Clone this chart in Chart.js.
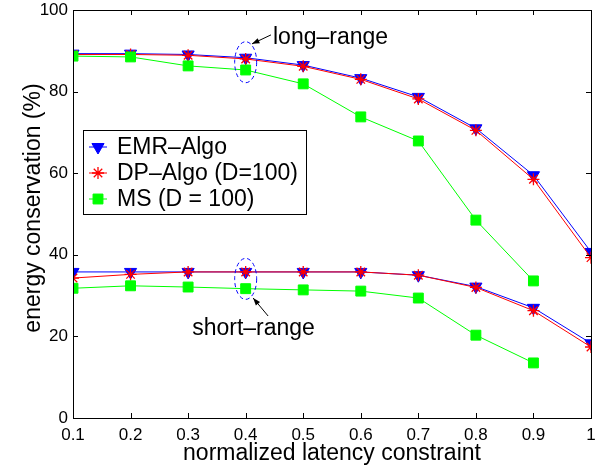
<!DOCTYPE html>
<html>
<head>
<meta charset="utf-8">
<script src="https://cdn.jsdelivr.net/npm/chart.js@4.4.1/dist/chart.umd.min.js"></script>
<style>
  body { margin: 0; background: #fff; }
  #chart { display: block; }
</style>
</head>
<body>
<canvas id="chart" width="602" height="467"></canvas>
<script>
// values
const latency = [0.1, 0.2, 0.3, 0.4, 0.5, 0.6, 0.7, 0.8, 0.9, 1.0];
const yTicks = [0, 20, 40, 60, 80, 100];

const emrLong = [89.3, 89.3, 89.1, 88.3, 86.5, 83.3, 78.7, 71.0, 59.5, 40.7];
const dpLong = [89.1, 89.1, 88.9, 88.0, 86.2, 83.0, 78.2, 70.5, 58.5, 39.3];
const msLong = [88.7, 88.5, 86.3, 85.3, 81.9, 73.8, 67.9, 48.5, 33.6, null];

const emrShort = [35.8, 35.8, 35.8, 35.8, 35.8, 35.8, 35.0, 32.2, 27.0, 18.3];
const dpShort = [34.3, 35.2, 35.8, 35.8, 35.8, 35.8, 35.0, 32.0, 26.3, 17.4];
const msShort = [31.8, 32.4, 32.1, 31.7, 31.4, 31.1, 29.4, 20.3, 13.5, null];

const labels = ["EMR\u2013Algo", "DP\u2013Algo (D=100)", "MS (D = 100)"];

const FONT = "'Liberation Sans', Arial, Helvetica, sans-serif";
const BLUE = "#0000ff", RED = "#ff0000", GREEN = "#00ff00";

const styles = [
  { color: BLUE, pointStyle: "triangle", rotation: 180, radius: 7, order: 3, bw: 1 },
  { color: RED, pointStyle: "star", rotation: 0, radius: 6, order: 2, bw: 1.3 },
  { color: GREEN, pointStyle: "rect", rotation: 0, radius: 7, order: 1, bw: 1 },
];

const toXY = (arr) => latency.map((x, i) => ({ x: x, y: arr[i] }));

const makeSet = (arr, s) => ({
  data: toXY(arr),
  borderColor: s.color,
  backgroundColor: s.color,
  borderWidth: 1,
  pointStyle: s.pointStyle,
  rotation: s.rotation,
  pointRadius: s.radius,
  pointBorderWidth: s.bw,
  pointBorderColor: s.color,
  pointBackgroundColor: s.color,
  order: s.order,
  spanGaps: false,
});

// box, inward ticks on all four sides, y title, legend and the range notes
const extras = {
  id: "extras",
  afterDraw(chart) {
    const ctx = chart.ctx;
    const a = chart.chartArea;
    const xs = chart.scales.x, ys = chart.scales.y;
    const tl = 5;
    ctx.save();
    ctx.strokeStyle = "#000";
    ctx.lineWidth = 1;
    ctx.strokeRect(Math.round(a.left) + 0.5, Math.round(a.top) + 0.5,
      Math.round(a.right - a.left), Math.round(a.bottom - a.top));
    ctx.beginPath();
    latency.forEach((v) => {
      const px = Math.round(xs.getPixelForValue(v)) + 0.5;
      ctx.moveTo(px, a.bottom); ctx.lineTo(px, a.bottom - tl);
      ctx.moveTo(px, a.top); ctx.lineTo(px, a.top + tl);
    });
    yTicks.forEach((v) => {
      const py = Math.round(ys.getPixelForValue(v)) + 0.5;
      ctx.moveTo(a.left, py); ctx.lineTo(a.left + tl, py);
      ctx.moveTo(a.right, py); ctx.lineTo(a.right - tl, py);
    });
    ctx.stroke();

    // y axis title
    ctx.save();
    ctx.translate(34, 208);
    ctx.rotate(-Math.PI / 2);
    ctx.font = "23px " + FONT;
    ctx.fillStyle = "#000";
    ctx.textAlign = "center";
    ctx.textBaseline = "middle";
    ctx.fillText("energy conservation (%)", 0, 0);
    ctx.restore();

    // legend
    const lx = 83, ly = 130, lw = 223, lh = 84;
    ctx.fillStyle = "#fff";
    ctx.fillRect(lx, ly, lw, lh);
    ctx.strokeStyle = "#000";
    ctx.strokeRect(lx + 0.5, ly + 0.5, lw, lh);
    ctx.font = "23px " + FONT;
    ctx.textBaseline = "middle";
    ctx.textAlign = "left";
    styles.forEach((s, i) => {
      const cy = ly + 17 + i * 26;
      const cx = 98;
      ctx.strokeStyle = s.color;
      ctx.fillStyle = s.color;
      ctx.lineWidth = 1;
      ctx.beginPath();
      ctx.moveTo(cx - 9, cy); ctx.lineTo(cx + 9, cy);
      ctx.stroke();
      ctx.lineWidth = s.bw;
      Chart.helpers.drawPoint(ctx, {
        pointStyle: s.pointStyle, rotation: s.rotation, radius: s.radius, borderWidth: s.bw,
      }, cx, cy);
      ctx.fillStyle = "#000";
      ctx.fillText(labels[i], 117, cy + 1);
    });

    // range notes: dashed ellipses with arrows
    const note = (yVal, text, tx, ty, ax0, ay0, ax1, ay1) => {
      const ex = xs.getPixelForValue(0.4);
      const ey = ys.getPixelForValue(yVal);
      ctx.strokeStyle = BLUE;
      ctx.lineWidth = 1;
      ctx.setLineDash([4, 3]);
      ctx.beginPath();
      ctx.ellipse(ex, ey, 11, 20.5, 0, 0, Math.PI * 2);
      ctx.stroke();
      ctx.setLineDash([]);
      const x0 = xs.getPixelForValue(ax0), y0 = ys.getPixelForValue(ay0);
      const x1 = xs.getPixelForValue(ax1), y1 = ys.getPixelForValue(ay1);
      ctx.strokeStyle = "#000";
      ctx.fillStyle = "#000";
      ctx.beginPath();
      ctx.moveTo(x0, y0); ctx.lineTo(x1, y1);
      ctx.stroke();
      const ang = Math.atan2(y1 - y0, x1 - x0);
      ctx.beginPath();
      ctx.moveTo(x1, y1);
      ctx.lineTo(x1 - 8 * Math.cos(ang - 0.35), y1 - 8 * Math.sin(ang - 0.35));
      ctx.lineTo(x1 - 8 * Math.cos(ang + 0.35), y1 - 8 * Math.sin(ang + 0.35));
      ctx.closePath();
      ctx.fill();
      ctx.font = "23px " + FONT;
      ctx.textAlign = "left";
      ctx.textBaseline = "middle";
      ctx.fillText(text, xs.getPixelForValue(tx), ys.getPixelForValue(ty));
    };
    note(87.2, "long\u2013range", 0.4475, 93.1, 0.4440, 93.9, 0.4110, 91.7);
    note(34.1, "short\u2013range", 0.3070, 21.8, 0.4390, 25.0, 0.4130, 29.4);
    ctx.restore();
  },
};

new Chart(document.getElementById("chart"), {
  type: "line",
  data: {
    datasets: [
      makeSet(emrLong, styles[0]),
      makeSet(dpLong, styles[1]),
      makeSet(msLong, styles[2]),
      makeSet(emrShort, styles[0]),
      makeSet(dpShort, styles[1]),
      makeSet(msShort, styles[2]),
    ],
  },
  options: {
    responsive: false,
    animation: false,
    layout: { padding: { left: 0, top: 10, right: 11, bottom: 0 } },
    plugins: { legend: { display: false }, tooltip: { enabled: false } },
    elements: { line: { tension: 0 } },
    scales: {
      x: {
        type: "linear",
        min: 0.1,
        max: 1,
        afterBuildTicks: (s) => { s.ticks = latency.map((v) => ({ value: v })); },
        afterFit: (s) => { s.height = 49; s.paddingLeft = 0; s.paddingRight = 0; },
        grid: { display: false, drawTicks: false },
        border: { display: false },
        ticks: {
          color: "#000",
          padding: 7,
          maxRotation: 0,
          autoSkip: false,
          font: { family: FONT, size: 17 },
          callback: (v) => String(Math.round(v * 10) / 10),
        },
        title: {
          display: true,
          text: "normalized latency constraint",
          color: "#000",
          font: { family: FONT, size: 23 },
          padding: { top: 0, bottom: 0 },
        },
      },
      y: {
        min: 0,
        max: 100,
        afterBuildTicks: (s) => { s.ticks = yTicks.map((v) => ({ value: v })); },
        afterFit: (s) => { s.width = 73; s.paddingTop = 0; s.paddingBottom = 0; },
        grid: { display: false, drawTicks: false },
        border: { display: false },
        ticks: {
          color: "#000",
          padding: 5,
          font: { family: FONT, size: 17 },
        },
      },
    },
  },
  plugins: [extras],
});
</script>
</body>
</html>
